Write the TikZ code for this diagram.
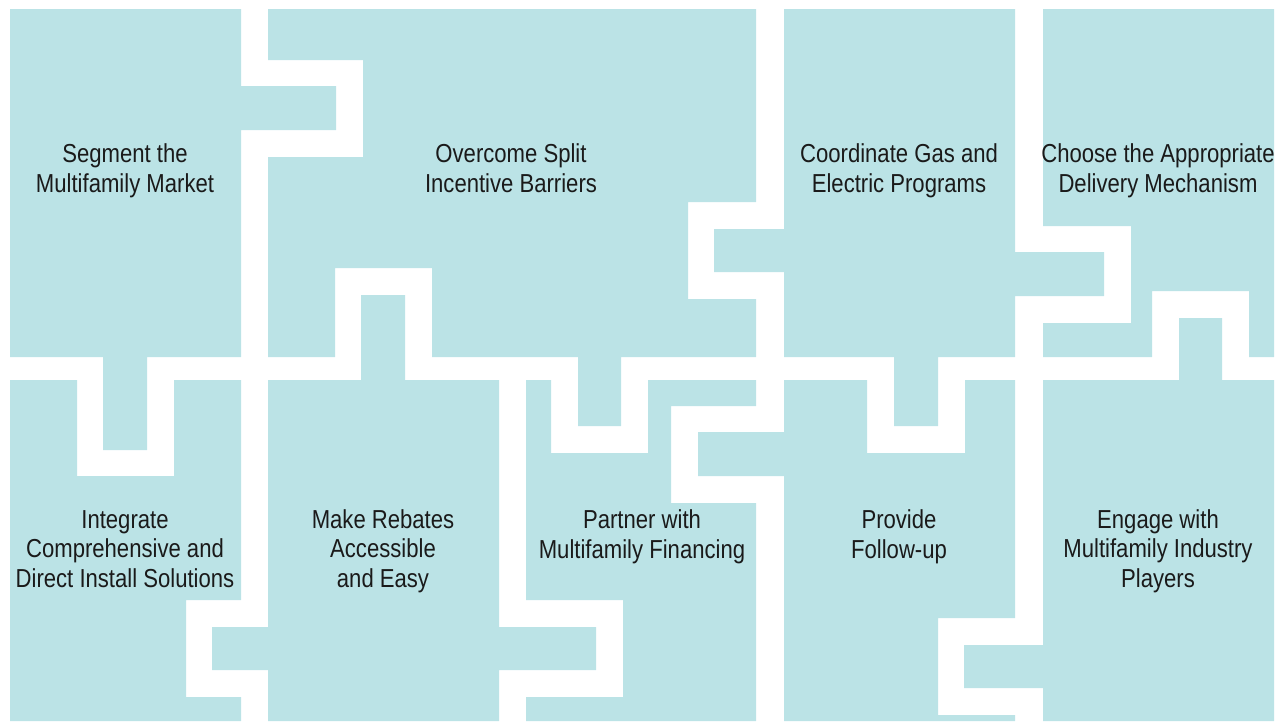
\documentclass[tikz,border=0pt]{standalone}
\usepackage{fontspec}
\setmainfont{Liberation Sans}[FakeStretch=0.85]
\definecolor{puzzleblue}{RGB}{187,227,230}
\definecolor{labeltext}{RGB}{26,26,26}
\tikzset{
  piece/.style={fill=puzzleblue},
  label/.style={anchor=base, align=center, text=labeltext,
    font=\fontsize{26}{29.5}\selectfont}
}
\begin{document}
\begin{tikzpicture}[x=1pt,y=-1pt]
\useasboundingbox (0,0) rectangle (1282,721);

\fill[piece] (10,9) -- (241,9) -- (241,86) -- (336,86) -- (336,130) -- (241,130) -- (241,357) -- (147,357) -- (147,450) -- (103,450) -- (103,357) -- (10,357) -- cycle;
\fill[piece] (268,9) -- (756,9) -- (756,202) -- (688,202) -- (688,299) -- (756,299) -- (756,357) -- (621,357) -- (621,426) -- (578,426) -- (578,357) -- (432,357) -- (432,268) -- (335,268) -- (335,357) -- (268,357) -- (268,157) -- (363,157) -- (363,60) -- (268,60) -- cycle;
\fill[piece] (784,9) -- (1015,9) -- (1015,252) -- (1104,252) -- (1104,296) -- (1015,296) -- (1015,357) -- (938,357) -- (938,426) -- (894,426) -- (894,357) -- (784,357) -- (784,272) -- (714,272) -- (714,229) -- (784,229) -- cycle;
\fill[piece] (1043,9) -- (1274,9) -- (1274,357) -- (1249,357) -- (1249,291) -- (1152,291) -- (1152,357) -- (1043,357) -- (1043,323) -- (1131,323) -- (1131,226) -- (1043,226) -- cycle;

\fill[piece] (10,380) -- (77,380) -- (77,476) -- (174,476) -- (174,380) -- (241,380) -- (241,600) -- (186,600) -- (186,697) -- (241,697) -- (241,721) -- (10,721) -- cycle;
\fill[piece] (268,380) -- (361,380) -- (361,295) -- (405,295) -- (405,380) -- (499,380) -- (499,627) -- (596,627) -- (596,670) -- (499,670) -- (499,721) -- (268,721) -- (268,670) -- (212,670) -- (212,627) -- (268,627) -- cycle;
\fill[piece] (526,380) -- (551,380) -- (551,453) -- (648,453) -- (648,380) -- (756,380) -- (756,406) -- (671,406) -- (671,503) -- (756,503) -- (756,721) -- (526,721) -- (526,697) -- (623,697) -- (623,600) -- (526,600) -- cycle;
\fill[piece] (784,380) -- (867,380) -- (867,453) -- (965,453) -- (965,380) -- (1015,380) -- (1015,618) -- (938,618) -- (938,715) -- (1015,715) -- (1015,721) -- (784,721) -- (784,476) -- (698,476) -- (698,432) -- (784,432) -- cycle;
\fill[piece] (1043,380) -- (1179,380) -- (1179,318) -- (1222,318) -- (1222,380) -- (1274,380) -- (1274,721) -- (1043,721) -- (1043,688) -- (964,688) -- (964,645) -- (1043,645) -- cycle;

\node[label] (segment) at (125,192) {Segment the\\Multifamily Market};
\node[label] (overcome) at (511,192) {Overcome Split\\Incentive Barriers};
\node[label] (coordinate) at (899,192) {Coordinate Gas and\\Electric Programs};
\node[label] (choose) at (1158,192) {Choose the Appropriate\\Delivery Mechanism};
\node[label] (integrate) at (125,587) {Integrate\\Comprehensive and\\Direct Install Solutions};
\node[label] (rebates) at (383,587) {Make Rebates\\Accessible\\and Easy};
\node[label] (partner) at (642,558) {Partner with\\Multifamily Financing};
\node[label] (followup) at (899,558) {Provide\\Follow-up};
\node[label] (engage) at (1158,587) {Engage with\\Multifamily Industry\\Players};

\end{tikzpicture}
\end{document}
